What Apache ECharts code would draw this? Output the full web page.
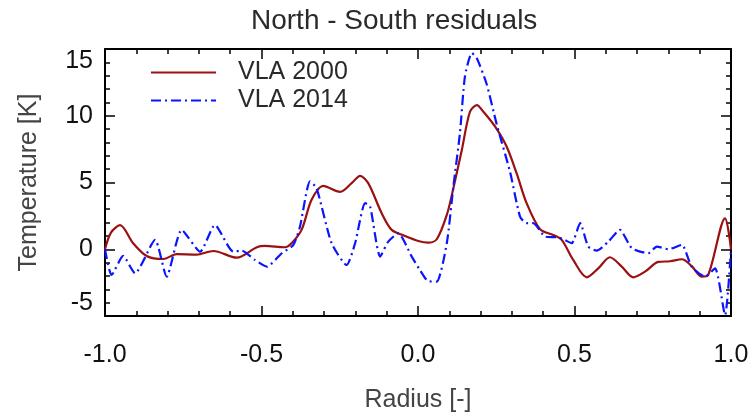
<!DOCTYPE html>
<html><head><meta charset="utf-8">
<script src="https://cdn.jsdelivr.net/npm/echarts@6/dist/echarts.min.js"></script>
<style>html,body{margin:0;padding:0;background:#fff}#c{width:752px;height:418px}</style>
</head><body><div id="c"></div>
<script>
const titleText = "North - South residuals";
const xName = "Radius [-]";
const yName = "Temperature [K]";
const seriesNames = ["VLA 2000", "VLA 2014"];

const r2000 = [-1.000,-0.981,-0.952,-0.910,-0.867,-0.814,-0.771,-0.707,-0.654,-0.579,-0.515,-0.489,-0.425,-0.404,-0.372,-0.340,-0.303,-0.249,-0.212,-0.185,-0.159,-0.116,-0.084,-0.042,0.001,0.033,0.060,0.092,0.113,0.140,0.166,0.188,0.209,0.246,0.283,0.315,0.347,0.390,0.432,0.459,0.496,0.539,0.576,0.613,0.651,0.688,0.725,0.768,0.805,0.843,0.874,0.906,0.927,0.981,1.000];
const t2000 = [0.0,1.25,1.8,0.45,-0.5,-0.73,-0.37,-0.4,-0.13,-0.63,0.15,0.25,0.15,0.45,1.45,3.7,4.75,4.3,4.95,5.5,4.95,2.7,1.45,1.0,0.62,0.5,0.75,2.57,4.57,7.44,10.3,10.8,10.3,9.2,7.7,5.7,3.45,1.5,1.07,0.7,-0.8,-2.1,-1.43,-0.6,-1.3,-2.1,-1.68,-0.95,-0.9,-0.75,-1.25,-2.05,-1.93,2.32,0.0];

const r2014 = [-1.000,-0.979,-0.942,-0.904,-0.840,-0.803,-0.755,-0.696,-0.649,-0.590,-0.563,-0.521,-0.483,-0.435,-0.398,-0.377,-0.345,-0.324,-0.276,-0.228,-0.201,-0.169,-0.153,-0.121,-0.095,-0.063,-0.020,0.006,0.033,0.060,0.092,0.113,0.134,0.150,0.172,0.188,0.219,0.251,0.294,0.326,0.347,0.368,0.406,0.443,0.464,0.491,0.518,0.544,0.571,0.608,0.645,0.683,0.736,0.763,0.800,0.843,0.874,0.917,0.949,0.981,1.000];
const t2014 = [0.0,-1.93,-0.5,-1.8,0.7,-2.05,1.45,-0.18,1.82,-0.18,-0.1,-0.8,-1.3,-0.3,0.33,1.7,5.08,4.57,0.45,-1.18,0.45,3.45,3.2,-0.55,0.57,1.2,-0.55,-1.55,-2.4,-2.42,0.45,4.7,8.7,12.95,14.7,14.3,12.4,9.4,5.8,2.44,1.95,1.95,0.95,0.9,0.75,0.45,1.95,0.2,-0.1,0.57,1.45,0.08,-0.3,0.2,0.0,0.33,-1.3,-2.05,-1.43,-4.93,0.0];

const xTicks = [-1.0,-0.5,0.0,0.5,1.0];
const yTicks = [-5,0,5,10,15];

const FONT = '"Liberation Sans", Arial, Helvetica, sans-serif';
const pair = (xs, ys) => xs.map((x, i) => [x, ys[i]]);

const chart = echarts.init(document.getElementById('c'), null, {renderer: 'canvas'});
const axisLine = {show: true, onZero: false, lineStyle: {color: '#000', width: 2}};
const tick = {show: true, inside: true, length: 10, lineStyle: {color: '#000', width: 1.5}};
const minor = {show: true, splitNumber: 5, length: 5, lineStyle: {color: '#000', width: 1.5}};

chart.setOption({
  animation: false,
  backgroundColor: '#fff',
  title: {
    text: titleText, left: 246, top: 2,
    textStyle: {fontFamily: FONT, fontSize: 28, fontWeight: 'normal', color: '#2a2a2a'}
  },
  legend: {
    orient: 'vertical', left: 150, top: 60, padding: 0, itemWidth: 65, itemHeight: 14, itemGap: 3,
    data: seriesNames,
    itemStyle: {opacity: 0},
    textStyle: {fontFamily: FONT, fontSize: 25, lineHeight: 20, color: '#2a2a2a', padding: [0, 0, 0, 17]}
  },
  grid: {left: 105, right: 21, top: 49, bottom: 101, containLabel: false},
  xAxis: [{
    type: 'value', min: xTicks[0], max: xTicks[xTicks.length - 1], interval: 0.5,
    name: xName, nameLocation: 'middle', nameGap: 72,
    nameTextStyle: {fontFamily: FONT, fontSize: 25, color: '#444'},
    axisLine, axisTick: tick, minorTick: minor, splitLine: {show: false},
    axisLabel: {margin: 27, fontFamily: FONT, fontSize: 25, color: '#111', formatter: v => v.toFixed(1)}
  }, {
    type: 'value', position: 'top', min: xTicks[0], max: xTicks[xTicks.length - 1], interval: 0.5,
    axisLine, axisTick: tick, minorTick: minor, splitLine: {show: false}, axisLabel: {show: false}
  }],
  yAxis: [{
    type: 'value', min: yTicks[0], max: yTicks[yTicks.length - 1], interval: 5,
    name: yName, nameLocation: 'middle', nameGap: 63,
    nameTextStyle: {fontFamily: FONT, fontSize: 25, color: '#444'},
    axisLabel: {margin: 12, fontFamily: FONT, fontSize: 25, color: '#111',
      verticalAlignMaxLabel: 'top', verticalAlignMinLabel: 'bottom'},
    axisLine, axisTick: tick, minorTick: minor, splitLine: {show: false}
  }, {
    type: 'value', position: 'right', min: yTicks[0], max: yTicks[yTicks.length - 1], interval: 5,
    axisLine, axisTick: tick, minorTick: minor, splitLine: {show: false}, axisLabel: {show: false}
  }],
  series: [{
    name: seriesNames[0], type: 'line', data: pair(r2000, t2000), showSymbol: false, symbol: 'none',
    smooth: 0.3, clip: true,
    lineStyle: {color: '#9b1010', width: 2.2}, itemStyle: {color: '#9b1010'}
  }, {
    name: seriesNames[1], type: 'line', data: pair(r2014, t2014), showSymbol: false, symbol: 'none',
    smooth: 0.2, clip: true,
    lineStyle: {color: '#0a14ff', width: 2.2, type: [10, 4, 2, 4]}, itemStyle: {color: '#0a14ff'}
  }]
});
</script></body></html>
